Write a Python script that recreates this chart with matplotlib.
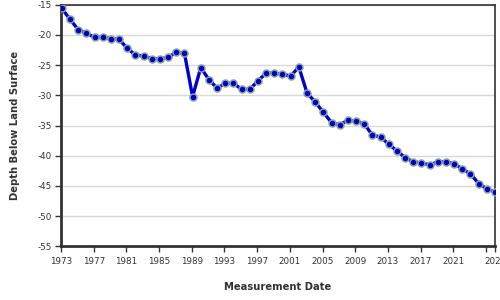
import numpy as np
import matplotlib
matplotlib.use('Agg')
import matplotlib.pyplot as plt

# annual measurements, 1973 - 2026
years = np.arange(1973, 2027)
depth = [-15.6, -17.4, -19.1, -19.7, -20.4, -20.4, -20.6, -20.7, -22.2, -23.3,
         -23.5, -23.9, -24.0, -23.7, -22.9, -23.0, -30.2, -25.4, -27.4, -28.8,
         -28.0, -28.0, -29.0, -29.0, -27.6, -26.3, -26.3, -26.5, -26.8, -25.3,
         -29.6, -31.1, -32.8, -34.5, -34.9, -34.1, -34.3, -34.7, -36.6, -36.9,
         -38.1, -39.2, -40.3, -41.0, -41.2, -41.5, -41.0, -41.0, -41.3, -42.2,
         -43.0, -44.6, -45.5, -46.0]
x_ticks = [1973, 1977, 1981, 1985, 1989, 1993, 1997, 2001, 2005, 2009,
           2013, 2017, 2021, 2025]
y_ticks = [-15, -20, -25, -30, -35, -40, -45, -50, -55]

x = years + 0.1

fig = plt.figure(figsize=(5, 3), dpi=100)
ax = fig.add_axes([0.122, 0.179, 0.868, 0.805])

ax.plot(x, depth, color='#0000cc', lw=2.4, zorder=3)
ax.plot(x, depth, 'o', ms=5, mfc='#0000cc', mec='#8aa39a', mew=1.1, zorder=4)

ax.set_xlim(1973, x[-1])
ax.set_ylim(-55, -15)
ax.set_yticks(y_ticks)
ax.set_yticklabels([str(v) for v in y_ticks])
ax.set_xticks(x_ticks + [x[-1]])
ax.set_xticklabels([str(t) for t in x_ticks[:-1]] + ['', '2026'])

ax.grid(axis='y', color='#d9d9d9', lw=1)
ax.set_axisbelow(True)

for s in ['left', 'bottom']:
    ax.spines[s].set_linewidth(2)
    ax.spines[s].set_color('#333333')
for s in ['top', 'right']:
    ax.spines[s].set_linewidth(1.2)
    ax.spines[s].set_color('#333333')

ax.tick_params(axis='both', labelsize=6.3, colors='#333333', length=4.5, width=1, pad=2)
ax.tick_params(axis='x', pad=3)

ax.set_xlabel('Measurement Date', fontsize=7.2, fontweight='bold', color='#333333', labelpad=12)
ax.set_ylabel('Depth Below Land Surface', fontsize=7.2, fontweight='bold', color='#333333', labelpad=13)

fig.savefig('out.png', dpi=100)
